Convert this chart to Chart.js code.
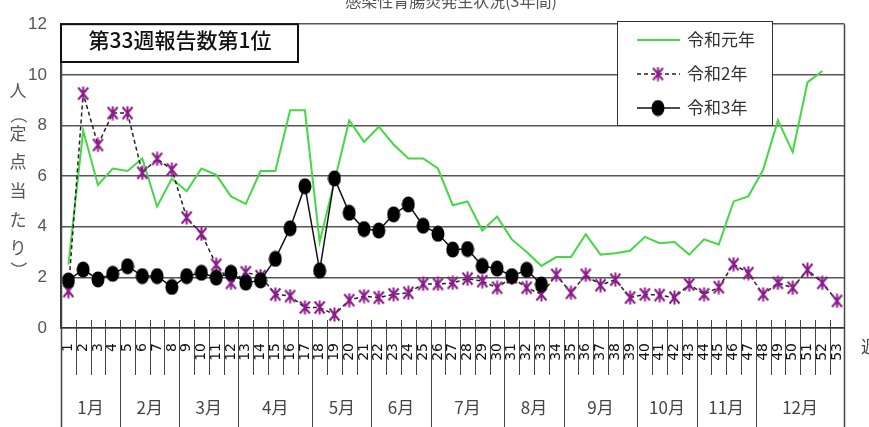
<!DOCTYPE html>
<html><head><meta charset="utf-8">
<script src="https://cdn.jsdelivr.net/npm/chart.js@4.4.0/dist/chart.umd.min.js"></script>
<style>html,body{margin:0;padding:0;background:#fff;overflow:hidden}canvas{display:block}</style>
</head><body>
<canvas id="c" width="869" height="427"></canvas>
<script>
// ---- data ----
const weeks = ['1','2','3','4','5','6','7','8','9','10','11','12','13','14','15','16','17','18','19','20',
  '21','22','23','24','25','26','27','28','29','30','31','32','33','34','35','36','37','38','39','40',
  '41','42','43','44','45','46','47','48','49','50','51','52','53'];
const r1 = [2.5,7.8,5.65,6.3,6.2,6.7,4.8,5.9,5.4,6.3,6.05,5.2,4.9,6.2,6.2,8.6,8.6,3.4,5.8,8.2,
  7.35,7.95,7.25,6.7,6.7,6.3,4.85,5.0,3.85,4.4,3.5,3.0,2.45,2.8,2.8,3.7,2.9,2.95,3.05,3.6,
  3.35,3.4,2.9,3.5,3.3,5.0,5.2,6.25,8.2,6.95,9.7,10.15,null];
const r2 = [1.46,9.26,7.23,8.49,8.49,6.13,6.68,6.26,4.36,3.72,2.5,1.78,2.2,2.05,1.33,1.26,0.81,0.81,0.53,1.1,
  1.26,1.2,1.33,1.39,1.74,1.74,1.78,1.95,1.85,1.59,2.0,1.59,1.33,2.1,1.39,2.1,1.69,1.91,1.2,1.33,
  1.3,1.2,1.72,1.33,1.61,2.52,2.17,1.33,1.78,1.59,2.3,1.78,1.07];
const r3 = [1.88,2.31,1.92,2.14,2.44,2.05,2.05,1.62,2.05,2.18,1.99,2.18,1.79,1.88,2.73,3.94,5.6,2.27,5.91,4.55,
  3.91,3.85,4.49,4.88,4.04,3.72,3.1,3.12,2.45,2.35,2.05,2.3,1.72];
const seriesNames = ['令和元年','令和2年','令和3年'];
const monthLabels = ['1月','2月','3月','4月','5月','6月','7月','8月','9月','10月','11月','12月'];
const monthLastWeek = [4,8,12,17,21,25,30,34,39,43,47,53];
const yTitleChars = ['人','（','定','点','当','た','り','）'];
const chartTitle = '感染性胃腸炎発生状況(3年間)';
const boxText = '第33週報告数第1位';
const xUnit = '週';

const CJK = '"Noto Sans CJK JP", "Noto Sans CJK SC", sans-serif';
const NUM = '"Liberation Sans Narrow", "Liberation Sans", Arial, sans-serif';
const WK = '"DejaVu Sans", sans-serif';

function makeStar(){
  const c=document.createElement('canvas'); c.width=13; c.height=15;
  const g=c.getContext('2d'); g.strokeStyle='#8b1a8b'; g.lineWidth=2;
  g.beginPath();
  g.moveTo(1.5,1.5); g.lineTo(11.5,13.5); g.moveTo(11.5,1.5); g.lineTo(1.5,13.5);
  g.moveTo(6.5,0.5); g.lineTo(6.5,14.5);
  g.stroke(); return c;
}
function makeDot(){
  const c=document.createElement('canvas'); c.width=14; c.height=17;
  const g=c.getContext('2d'); g.fillStyle='#000';
  g.beginPath(); g.ellipse(7,8.5,6.5,8,0,0,Math.PI*2); g.fill(); return c;
}
const starImg = makeStar(), dotImg = makeDot();

const decor = {
  id:'decor',
  afterDraw(chart){
    const {ctx, chartArea:a, scales:{x}} = chart;
    const H = chart.height;
    const n = weeks.length;
    const bx = i => i===0 ? a.left : (i===n ? a.right : (x.getPixelForValue(i-1)+x.getPixelForValue(i))/2);
    const monthEdges = new Set([0].concat(monthLastWeek));
    ctx.save();
    ctx.strokeStyle='#444'; ctx.lineWidth=1;
    for (let i=0;i<=n;i++){
      const px = Math.round(bx(i))+0.5;
      ctx.beginPath();
      if (i===0||i===n){ ctx.lineWidth=1.5; ctx.moveTo(px,a.top); ctx.lineTo(px,H); }
      else if (monthEdges.has(i)){ ctx.lineWidth=1; ctx.moveTo(px,a.bottom-8); ctx.lineTo(px,H); }
      else { ctx.lineWidth=1; ctx.moveTo(px,a.bottom-8); ctx.lineTo(px,a.bottom+47); }
      ctx.stroke();
    }
    // month labels
    ctx.fillStyle='#444'; ctx.font='17px '+CJK; ctx.textAlign='center'; ctx.textBaseline='middle';
    let start=0;
    monthLabels.forEach((m,k)=>{
      const end=monthLastWeek[k];
      ctx.fillText(m,(bx(start)+bx(end))/2,408);
      start=end;
    });
    // x unit
    ctx.textAlign='left'; ctx.fillText(xUnit,861,347);
    // y title (vertical writing)
    ctx.fillStyle='#555'; ctx.font='17px '+CJK; ctx.textAlign='center'; ctx.textBaseline='middle';
    const ys=[91,115,134,162,191,220,248,270];
    yTitleChars.forEach((ch,i)=>{
      if (ch==='（'||ch==='）'){
        ctx.save(); ctx.translate(18,ys[i]); ctx.rotate(Math.PI/2); ctx.fillText(ch,0,0); ctx.restore();
      } else ctx.fillText(ch,18,ys[i]);
    });
    // chart title (cut off at top)
    ctx.font='16px '+CJK; ctx.fillStyle='#555'; ctx.textBaseline='alphabetic';
    ctx.fillText(chartTitle,451,7);
    // box
    ctx.fillStyle='#fff'; ctx.fillRect(a.left,a.top,298-a.left,62-a.top);
    ctx.strokeStyle='#111'; ctx.lineWidth=2; ctx.strokeRect(a.left,a.top,298-a.left,62-a.top);
    ctx.fillStyle='#111'; ctx.font='500 21px '+CJK; ctx.textAlign='center'; ctx.textBaseline='middle';
    ctx.fillText(boxText,180,40);
    // legend
    const L={x:617,y:21,w:155,h:104};
    ctx.fillStyle='#fff'; ctx.fillRect(L.x,L.y,L.w,L.h);
    ctx.strokeStyle='#333'; ctx.lineWidth=1; ctx.strokeRect(L.x+0.5,L.y+0.5,L.w,L.h);
    const rows=[40,74,108];
    chart.data.datasets.forEach((ds,i)=>{
      const yy=rows[i];
      ctx.save();
      ctx.strokeStyle=ds.borderColor; ctx.lineWidth=ds.borderWidth;
      ctx.setLineDash(ds.borderDash||[]);
      ctx.beginPath(); ctx.moveTo(637,yy); ctx.lineTo(680,yy); ctx.stroke();
      ctx.restore();
      if (ds.pointStyle && ds.pointRadius>0){
        const im=ds.pointStyle; ctx.drawImage(im,658-im.width/2,yy-im.height/2);
      }
      ctx.fillStyle='#333'; ctx.font='17px '+CJK; ctx.textAlign='left'; ctx.textBaseline='middle';
      ctx.fillText(ds.label,687,yy);
    });
    ctx.restore();
  }
};

new Chart(document.getElementById('c'),{
  type:'line',
  data:{labels:weeks,datasets:[
    {label:seriesNames[0],data:r1,borderColor:'#44d844',borderWidth:2,pointRadius:0,tension:0,order:2},
    {label:seriesNames[1],data:r2,borderColor:'#222',borderWidth:1.5,borderDash:[4,3],pointStyle:starImg,pointRadius:7,order:1},
    {label:seriesNames[2],data:r3,borderColor:'#111',borderWidth:1.5,pointStyle:dotImg,pointRadius:7,order:0}
  ]},
  options:{
    responsive:false, animation:false,
    layout:{padding:{left:0,top:15,right:16,bottom:0}},
    plugins:{legend:{display:false},tooltip:{enabled:false}},
    scales:{
      x:{type:'category',offset:true,
        grid:{display:false,drawTicks:false},
        border:{display:true,color:'#333',width:1.5},
        ticks:{autoSkip:false,maxRotation:90,minRotation:90,padding:15,color:'#111',font:{size:14,family:WK}},
        afterFit(s){s.height=99;}},
      y:{min:0,max:12,
        ticks:{stepSize:2,padding:14,color:'#555',font:{size:17,family:NUM}},
        grid:{color:'#555',lineWidth:1.5,drawTicks:false},
        border:{display:true,color:'#333',width:1.5},
        afterFit(s){s.width=61;}}
    }
  },
  plugins:[decor]
});
</script>
</body></html>
